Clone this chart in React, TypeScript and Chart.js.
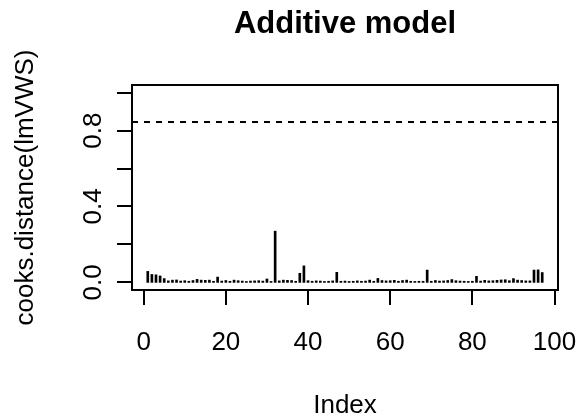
import React, { useEffect, useRef } from "react";
import { Chart, registerables } from "chart.js";

Chart.register(...registerables);

// Cook's distance for each observation (index 1..97)
const cooks: number[] = [
  0.058, 0.042, 0.040, 0.034, 0.020, 0.008, 0.012, 0.013, 0.007, 0.009,
  0.006, 0.010, 0.016, 0.012, 0.011, 0.012, 0.006, 0.028, 0.007, 0.010,
  0.006, 0.012, 0.009, 0.007, 0.005, 0.007, 0.008, 0.009, 0.007, 0.018,
  0.005, 0.270, 0.008, 0.012, 0.011, 0.010, 0.006, 0.048, 0.087, 0.009,
  0.006, 0.008, 0.007, 0.005, 0.006, 0.008, 0.053, 0.006, 0.007, 0.005,
  0.006, 0.008, 0.006, 0.007, 0.012, 0.006, 0.021, 0.010, 0.008, 0.009,
  0.011, 0.006, 0.010, 0.012, 0.006, 0.005, 0.006, 0.006, 0.065, 0.006,
  0.010, 0.007, 0.008, 0.010, 0.015, 0.009, 0.007, 0.006, 0.005, 0.006,
  0.032, 0.007, 0.011, 0.008, 0.009, 0.011, 0.013, 0.014, 0.009, 0.020,
  0.012, 0.010, 0.008, 0.008, 0.065, 0.066, 0.052,
];
const indices: number[] = cooks.map((_, i) => i + 1);
const cutoff = 0.845;

const xTicks: number[] = [0, 20, 40, 60, 80, 100];
const xTickLabels: string[] = ["0", "20", "40", "60", "80", "100"];
const yTicks: number[] = [0, 0.2, 0.4, 0.6, 0.8, 1.0];
const yTickLabels: string[] = ["0.0", "", "0.4", "", "0.8", ""];

const title = "Additive model";
const xLabel = "Index";
const yLabel = "cooks.distance(lmVWS)";

const X_MIN = 1 - 0.04 * 96;
const X_MAX = 97 + 0.04 * 96;
const Y_MIN = -0.04;
const Y_MAX = 1.04;

const FONT = "'Liberation Sans', Arial, Helvetica, sans-serif";

const rAxesPlugin = {
  id: "rAxes",
  afterDraw(chart: any) {
    const { ctx, chartArea } = chart;
    const xs = chart.scales.x;
    const ys = chart.scales.y;
    const { left, right, top, bottom } = chartArea;
    ctx.save();
    ctx.strokeStyle = "#000";
    ctx.fillStyle = "#000";
    ctx.lineWidth = 2;
    // box
    ctx.strokeRect(left, top, right - left, bottom - top);
    // x ticks
    ctx.beginPath();
    xTicks.forEach((v) => {
      const px = Math.round(xs.getPixelForValue(v));
      ctx.moveTo(px, bottom);
      ctx.lineTo(px, bottom + 15);
    });
    // y ticks
    yTicks.forEach((v) => {
      const py = Math.round(ys.getPixelForValue(v));
      ctx.moveTo(left, py);
      ctx.lineTo(left - 15, py);
    });
    ctx.stroke();

    ctx.font = `26px ${FONT}`;
    ctx.textAlign = "center";
    ctx.textBaseline = "alphabetic";
    xTicks.forEach((v, i) => {
      ctx.fillText(xTickLabels[i], xs.getPixelForValue(v), bottom + 60);
    });
    yTicks.forEach((v, i) => {
      if (!yTickLabels[i]) return;
      ctx.save();
      ctx.translate(left - 31, ys.getPixelForValue(v));
      ctx.rotate(-Math.PI / 2);
      ctx.fillText(yTickLabels[i], 0, 0);
      ctx.restore();
    });
    // axis titles
    ctx.fillText(xLabel, (left + right) / 2, bottom + 123);
    ctx.save();
    ctx.translate(33, (top + bottom) / 2);
    ctx.rotate(-Math.PI / 2);
    ctx.fillText(yLabel, 0, 0);
    ctx.restore();
    // main title
    ctx.font = `bold 31px ${FONT}`;
    ctx.fillText(title, (left + right) / 2, 33);
    ctx.restore();
  },
};

export default function App() {
  const ref = useRef<HTMLCanvasElement | null>(null);
  useEffect(() => {
    if (!ref.current) return;
    const chart = new Chart(ref.current, {
      type: "bar",
      data: {
        datasets: [
          {
            type: "bar",
            data: indices.map((x, i) => ({ x, y: cooks[i] })),
            backgroundColor: "#000",
            borderWidth: 0,
            barThickness: 2,
          } as any,
          {
            type: "line",
            data: [
              { x: X_MIN, y: cutoff },
              { x: X_MAX, y: cutoff },
            ],
            borderColor: "#000",
            borderWidth: 2,
            borderDash: [6, 6],
            pointRadius: 0,
            fill: false,
          } as any,
        ],
      },
      options: {
        animation: false,
        responsive: false,
        devicePixelRatio: 1,
        layout: { padding: { left: 132, right: 20, top: 85, bottom: 130 } },
        plugins: {
          legend: { display: false },
          tooltip: { enabled: false },
          title: { display: false },
        },
        scales: {
          x: { type: "linear", min: X_MIN, max: X_MAX, display: false, offset: false },
          y: { type: "linear", min: Y_MIN, max: Y_MAX, display: false },
        },
      },
      plugins: [rAxesPlugin],
    });
    return () => chart.destroy();
  }, []);
  return (
    <div style={{ position: "absolute", left: 0, top: 0, width: 578, height: 420, background: "#fff" }}>
      <canvas ref={ref} width={578} height={420} style={{ display: "block" }} />
    </div>
  );
}
